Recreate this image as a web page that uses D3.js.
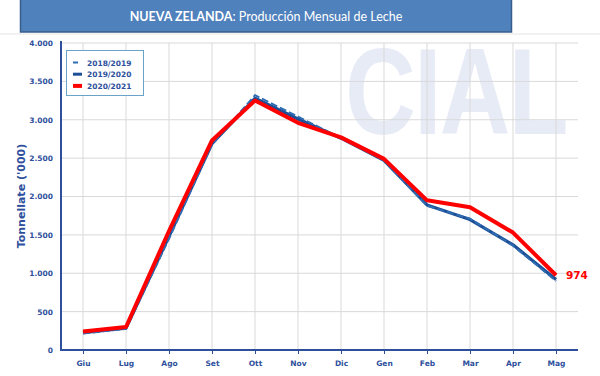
<!DOCTYPE html>
<html>
<head>
<meta charset="utf-8">
<script src="https://cdn.jsdelivr.net/npm/d3@7"></script>
<style>
  body { margin: 0; background: #fff; }
  svg { display: block; }
</style>
</head>
<body>
<div id="chart"></div>
<script>
const months = ['Giu', 'Lug', 'Ago', 'Set', 'Ott', 'Nov', 'Dic', 'Gen', 'Feb', 'Mar', 'Apr', 'Mag'];
const s2018 = [215, 275, 1450, 2680, 3320, 3040, 2760, 2470, 1880, 1710, 1360, 900];
const s2019 = [225, 285, 1480, 2690, 3280, 3010, 2760, 2470, 1890, 1700, 1370, 920];
const s2020 = [240, 300, 1550, 2730, 3250, 2960, 2770, 2490, 1950, 1860, 1530, 974];
const yTicks = [0, 500, 1000, 1500, 2000, 2500, 3000, 3500, 4000];
const seriesNames = ['2018/2019', '2019/2020', '2020/2021'];

const width = 600, height = 376;
const axisBlue = '#2e4f9c';
const margin = { left: 61, right: 22, top: 43, bottom: 26 };

const svg = d3.select('#chart').append('svg')
  .attr('width', width)
  .attr('height', height)
  .attr('font-family', 'DejaVu Sans, Verdana, sans-serif');

// faint line under the title bar
svg.append('line')
  .attr('x1', 0).attr('x2', width).attr('y1', 34).attr('y2', 34)
  .attr('stroke', '#e4e4e4').attr('stroke-width', 1);

// title bar
svg.append('rect')
  .attr('x', 20.5).attr('y', -1).attr('width', 491).attr('height', 33)
  .attr('fill', '#4f81bd').attr('stroke', '#385d8a').attr('stroke-width', 1.5);
const title = svg.append('text')
  .attr('x', 266).attr('y', 21)
  .attr('text-anchor', 'middle')
  .attr('font-family', 'Lato, sans-serif')
  .attr('font-size', 12.5)
  .attr('fill', '#fff');
title.append('tspan').attr('font-weight', 'bold').text('NUEVA ZELANDA');
title.append('tspan').text(': Producción Mensual de Leche');

const x = d3.scalePoint().domain(months).range([83, 556]);
const y = d3.scaleLinear().domain([0, 4000]).range([350, 43]);

// watermark
svg.append('text')
  .attr('transform', 'translate(456,134) scale(0.8,1)')
  .attr('text-anchor', 'middle')
  .attr('font-family', 'Liberation Sans, Arial, sans-serif')
  .attr('font-weight', 'bold')
  .attr('font-size', 122)
  .attr('letter-spacing', -2)
  .attr('fill', '#e7ebf6')
  .text('CIAL');

// grid
svg.append('g').selectAll('line').data(yTicks.slice(1)).join('line')
  .attr('x1', margin.left).attr('x2', 578)
  .attr('y1', d => y(d)).attr('y2', d => y(d))
  .attr('stroke', '#d9d9d9').attr('stroke-width', 1);
svg.append('g').selectAll('line').data(months).join('line')
  .attr('x1', d => x(d)).attr('x2', d => x(d))
  .attr('y1', 43).attr('y2', 350)
  .attr('stroke', '#d9d9d9').attr('stroke-width', 1);

// axes
svg.append('line')
  .attr('x1', margin.left).attr('x2', margin.left).attr('y1', 41).attr('y2', 351)
  .attr('stroke', axisBlue).attr('stroke-width', 2);
const xAxis = svg.append('g')
  .attr('transform', 'translate(0,350)')
  .call(d3.axisBottom(x).tickSize(4).tickPadding(7));
xAxis.select('.domain').attr('d', `M${margin.left},0H578`)
  .attr('stroke', axisBlue).attr('stroke-width', 2);
xAxis.selectAll('.tick line').attr('stroke', axisBlue).attr('stroke-width', 1);
xAxis.selectAll('.tick text')
  .attr('fill', axisBlue).attr('font-size', 7.5).attr('font-weight', 'bold')
  .attr('font-family', 'DejaVu Sans, Verdana, sans-serif');

const yAxis = svg.append('g')
  .attr('transform', `translate(${margin.left},0)`)
  .call(d3.axisLeft(y).tickValues(yTicks).tickSize(0).tickPadding(8)
    .tickFormat(d => d3.format(',')(d).replace(/,/g, '.')));
yAxis.select('.domain').remove();
yAxis.selectAll('.tick text')
  .attr('fill', axisBlue).attr('font-size', 7.5).attr('font-weight', 'bold')
  .attr('font-family', 'DejaVu Sans, Verdana, sans-serif');

svg.append('text')
  .attr('transform', 'translate(25,196) rotate(-90)')
  .attr('text-anchor', 'middle')
  .attr('font-size', 11).attr('font-weight', 'bold')
  .attr('fill', axisBlue)
  .text("Tonnellate ('000)");

// lines
const line = d3.line().x((d, i) => x(months[i])).y(d => y(d));
svg.append('path').datum(s2019).attr('d', line)
  .attr('fill', 'none').attr('stroke', '#1c4f96').attr('stroke-width', 3.2)
  .attr('stroke-linejoin', 'round');
svg.append('path').datum(s2018).attr('d', line)
  .attr('fill', 'none').attr('stroke', '#2f6db3').attr('stroke-width', 2)
  .attr('stroke-dasharray', '7,3');
svg.append('path').datum(s2020).attr('d', line)
  .attr('fill', 'none').attr('stroke', '#ff0000').attr('stroke-width', 4)
  .attr('stroke-linejoin', 'round');

// last value label
svg.append('text')
  .attr('x', x('Mag') + 10).attr('y', y(s2020[11]) + 4)
  .attr('font-size', 10.5).attr('font-weight', 'bold')
  .attr('fill', '#ff0000')
  .text(d3.format(',')(s2020[11]).replace(/,/g, '.'));

// legend
const legend = svg.append('g');
legend.append('rect')
  .attr('x', 66.5).attr('y', 50.5).attr('width', 77).attr('height', 45)
  .attr('fill', '#fff').attr('stroke', '#6aa3c8').attr('stroke-width', 1);
const legendStyles = [
  { color: '#2f6db3', w: 2, len: 5 },
  { color: '#1c4f96', w: 3, len: 9 },
  { color: '#ff0000', w: 4, len: 9 }
];
seriesNames.forEach((name, i) => {
  const ly = 62.5 + i * 11.7;
  const st = legendStyles[i];
  legend.append('line')
    .attr('x1', 73).attr('x2', 73 + st.len).attr('y1', ly).attr('y2', ly)
    .attr('stroke', st.color).attr('stroke-width', st.w);
  legend.append('text')
    .attr('x', 87).attr('y', ly + 3)
    .attr('font-size', 7.5).attr('font-weight', 'bold')
    .attr('fill', axisBlue)
    .text(name);
});
</script>
</body>
</html>
